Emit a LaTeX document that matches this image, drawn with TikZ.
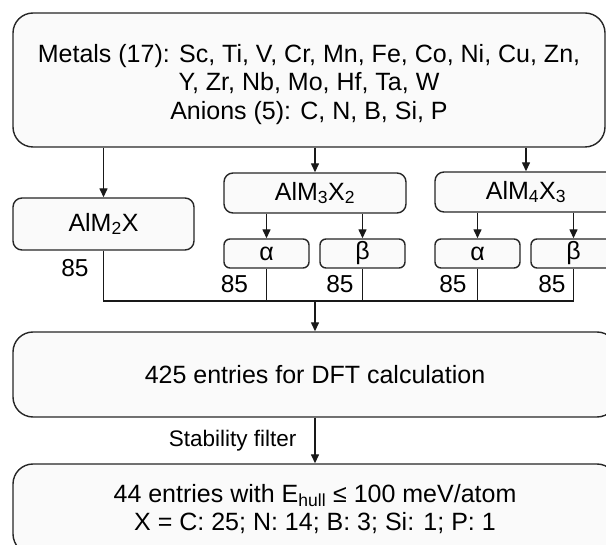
\documentclass[tikz,border=0pt]{standalone}
\usepackage{fontspec}
\setmainfont{Liberation Sans}
\usetikzlibrary{arrows.meta}

\begin{document}
\begin{tikzpicture}[x=1pt,y=-1pt,
    box/.style={draw=black!85, line width=1.4pt, fill=black!2, rounded corners=#1,
      inner sep=0pt, font=\fontsize{25}{27.5}\selectfont},
    box/.default=9pt,
    phase/.style={box=6pt, minimum width=85pt, minimum height=29pt},
    link/.style={draw=black!90, line width=1.4pt},
    arr/.style={link, -{Triangle[length=9pt,width=8pt]}},
    num/.style={inner sep=0pt, font=\fontsize{24.5}{26}\selectfont}]
    \useasboundingbox (0,0) rectangle (606,545);

    % elements
    \node[box=20pt, minimum width=592pt, minimum height=134pt, align=center,
      font=\fontsize{25}{28.5}\selectfont] (elem) at (309,80)
      {\rule{0pt}{26.5pt}Metals (17): Sc, Ti, V, Cr, Mn, Fe, Co, Ni, Cu, Zn,\\ Y, Zr, Nb, Mo, Hf, Ta, W\\ Anions (5): C, N, B, Si, P};

    % MAX phases
    \node[box, minimum width=181pt, minimum height=52pt] (m2x) at (103.5,224) {AlM\textsubscript{2}X};
    \node[box, minimum width=182pt, minimum height=40pt] (m3x2) at (315,193) {AlM\textsubscript{3}X\textsubscript{2}};
    \node[box, minimum width=182pt, minimum height=40pt] (m4x3) at (526,192) {AlM\textsubscript{4}X\textsubscript{3}};
    \node[phase] (m3x2a) at (266.5,253.5) {α};
    \node[phase] (m3x2b) at (362.5,253.5) {β};
    \node[phase] (m4x3a) at (477.5,253.5) {α};
    \node[phase] (m4x3b) at (573.5,253.5) {β};

    \draw[arr] (elem.south -| m2x) -- (m2x);
    \draw[arr] (elem.south -| m3x2) -- (m3x2);
    \draw[arr] (elem.south -| m4x3) -- (m4x3);
    \draw[arr] (m3x2.south -| m3x2a) -- (m3x2a);
    \draw[arr] (m3x2.south -| m3x2b) -- (m3x2b);
    \draw[arr] (m4x3.south -| m4x3a) -- (m4x3a);
    \draw[arr] (m4x3.south -| m4x3b) -- (m4x3b);

    % counts
    \node[num] (c2) at (75,268.5) {85};
    \node[num] (c3a) at (234.5,284) {85};
    \node[num] (c3b) at (340,284) {85};
    \node[num] (c4a) at (453,284) {85};
    \node[num] (c4b) at (552,284) {85};

    % merge
    \coordinate (join) at (315,301);
    \draw[link] (m2x.south) -- (m2x.south |- join) -- (m4x3b.south |- join);
    \foreach \p in {m3x2a,m3x2b,m4x3a,m4x3b}
      \draw[link] (\p.south) -- (\p.south |- join);

    \node[box=20pt, minimum width=604pt, minimum height=85pt] (dft) at (315,374.5)
      {425 entries for DFT calculation};
    \node[box=20pt, minimum width=604pt, minimum height=90pt, align=center] (hull) at (315,509)
      {44 entries with E\textsubscript{hull} ≤ 100 meV/atom\\ X = C: 25; N: 14; B: 3; Si: 1; P: 1};

    \draw[arr] (join) -- (dft);
    \draw[arr] (dft) -- node[midway, left, inner sep=0pt, xshift=-18pt, font=\fontsize{22.5}{24}\selectfont] (filt) {Stability filter} (hull);
\end{tikzpicture}
\end{document}
